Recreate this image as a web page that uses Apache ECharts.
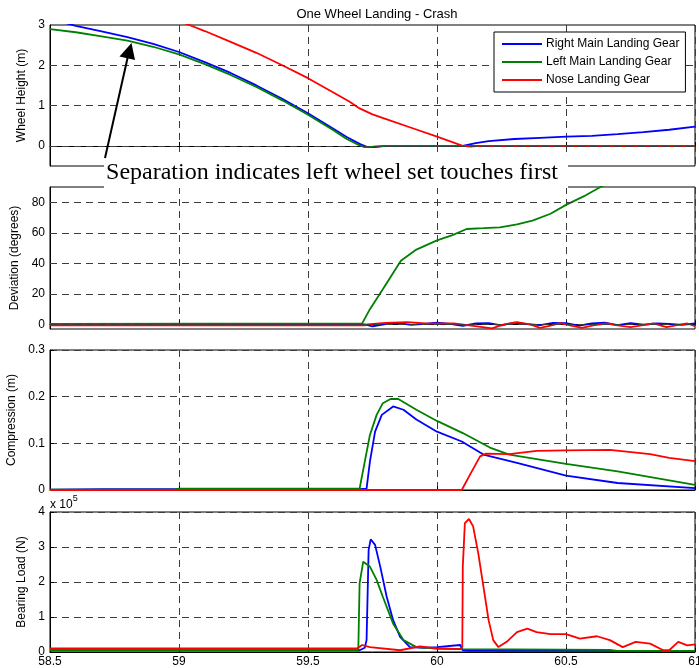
<!DOCTYPE html>
<html><head><meta charset="utf-8">
<script src="https://cdn.jsdelivr.net/npm/echarts@6/dist/echarts.min.js"></script>
<style>html,body{margin:0;padding:0;background:#fff}#c{width:699px;height:668px}</style>
</head><body><div id="c"></div>
<script>
// ---------- DATA ----------
const seriesNames = ['Right Main Landing Gear', 'Left Main Landing Gear', 'Nose Landing Gear'];
const xTicks = [58.5, 59, 59.5, 60, 60.5, 61];

// Panel 1: Wheel Height (m)
const hBlueX = [58.5,58.6,58.7,58.8,58.9,59.0,59.1,59.2,59.3,59.4,59.5,59.6,59.65,59.7,59.73,59.76,59.8,60.0,60.1,60.15,60.2,60.3,60.4,60.5,60.6,60.7,60.8,60.9,61.0];
const hBlue  = [3.15,2.98,2.84,2.70,2.53,2.33,2.08,1.81,1.50,1.17,0.81,0.42,0.22,0.05,-0.03,-0.03,0,0,0,0.07,0.12,0.17,0.20,0.23,0.25,0.29,0.34,0.40,0.48];
const hGreenX = [58.5,58.6,58.7,58.8,58.9,59.0,59.1,59.2,59.3,59.4,59.5,59.6,59.65,59.7,59.72,59.75,59.8,61.0];
const hGreen  = [2.90,2.82,2.72,2.61,2.46,2.27,2.03,1.76,1.46,1.13,0.77,0.38,0.17,0.01,-0.03,-0.02,0,0];
const hRedX = [59.0,59.04,59.1,59.2,59.3,59.4,59.5,59.6,59.66,59.7,59.75,59.8,59.9,60.0,60.1,60.13,60.16,61.0];
const hRed  = [3.10,3.00,2.85,2.58,2.31,2.00,1.68,1.32,1.10,0.93,0.78,0.67,0.45,0.23,0.0,-0.02,0,0];

// Panel 2: Deviation (degrees)
const dBlueX = [58.5,59.72,59.75,59.8,59.85,59.9,59.95,60.0,60.05,60.1,60.15,60.2,60.25,60.3,60.35,60.4,60.45,60.5,60.55,60.6,60.65,60.7,60.75,60.8,60.85,60.9,60.95,61.0];
const dBlue  = [0,0,-1.2,0.2,0.8,-0.3,0.4,1.2,0.3,-1.0,0.6,0.9,-0.6,1.1,0.2,-0.4,1.0,0.8,-0.8,0.6,1.1,-0.5,0.9,-0.2,0.6,0.4,-0.3,0.6];
const dGreenX = [58.5,59.71,59.74,59.79,59.86,59.92,60.0,60.06,60.115,60.18,60.244,60.31,60.37,60.44,60.5,60.57,60.64,60.8,61.0];
const dGreen  = [0.4,0.7,10,23,41.7,49,55,58.5,62.5,63,63.6,65.5,68,72.5,78.3,84,90.6,103,118];
const dRedX = [58.5,59.72,59.73,59.8,59.884,59.97,60.065,60.14,60.213,60.26,60.31,60.36,60.4,60.44,60.478,60.52,60.562,60.61,60.659,60.7,60.75,60.8,60.84,60.865,60.89,60.93,60.97,61.0];
const dRed  = [-0.6,-0.6,0,1.0,1.5,0.5,0.66,-1.0,-2.6,0,1.5,0,-2.2,-0.8,0.8,-0.8,-2.2,-0.5,0.6,-0.6,-1.8,-0.4,0.6,-0.6,-1.8,-0.4,0.6,-1.2];

// Panel 3: Compression (m)
const cBlueX = [58.5,58.7,59.7,59.727,59.74,59.76,59.786,59.83,59.87,59.92,60.0,60.096,60.18,60.31,60.5,60.7,61.0];
const cBlue  = [0.001,0.002,0.002,0.003,0.061,0.125,0.161,0.179,0.172,0.151,0.125,0.104,0.076,0.058,0.031,0.015,0.004];
const cGreenX = [58.5,58.98,59.0,59.70,59.74,59.766,59.79,59.82,59.85,59.92,60.0,60.1,60.205,60.28,60.5,60.7,61.0];
const cGreen  = [0.001,0.001,0.003,0.003,0.118,0.161,0.186,0.195,0.195,0.172,0.148,0.122,0.091,0.076,0.056,0.040,0.011];
const cRedX = [58.5,60.096,60.128,60.167,60.19,60.28,60.386,60.5,60.67,60.826,60.9,61.0];
const cRed  = [0.0,0.0,0.033,0.072,0.078,0.077,0.084,0.085,0.086,0.077,0.069,0.062];

// Panel 4: Bearing Load (N) x 10^5
const bBlueX = [58.5,59.70,59.72,59.727,59.735,59.743,59.76,59.78,59.805,59.83,59.857,59.895,59.95,60.0,60.09,60.1,60.12,61.0];
const bBlue  = [0.05,0.05,0.12,0.34,2.92,3.22,3.06,2.44,1.58,0.91,0.43,0.14,0.12,0.14,0.2,0.05,0.03,0.03];
const bGreenX = [58.5,59.695,59.70,59.714,59.72,59.74,59.766,59.79,59.83,59.87,59.92,60.0,60.1,60.67,60.7,61.0];
const bGreen  = [0.05,0.05,1.96,2.58,2.63,2.44,2.06,1.58,0.81,0.34,0.14,0.1,0.08,0.06,0.03,0.03];
const bRedX = [58.5,59.69,59.71,59.74,59.857,59.934,60.0,60.09,60.098,60.1,60.108,60.124,60.14,60.16,60.18,60.2,60.218,60.238,60.27,60.31,60.35,60.386,60.44,60.5,60.554,60.62,60.67,60.72,60.77,60.826,60.877,60.9,60.935,60.97,61.0];
const bRed  = [0.1,0.1,0.2,0.14,0.05,0.16,0.1,0.08,0.14,2.44,3.68,3.8,3.59,2.82,1.87,0.91,0.34,0.14,0.29,0.57,0.67,0.57,0.51,0.51,0.38,0.45,0.34,0.14,0.29,0.24,0.05,0.05,0.29,0.19,0.22];

// ---------- CHART ----------
const colors = ['#0000ff', '#008000', '#ff0000'];
const zip = (xs, ys) => xs.map((x, i) => [x, ys[i]]);
const FONT = 'Liberation Sans';
const dash = { color: '#3c3c3c', type: [7, 5], width: 1 };

const grids = [
  { left: 50, width: 645, top: 25, height: 141 },
  { left: 50, width: 645, top: 187, height: 142 },
  { left: 50, width: 645, top: 350, height: 140 },
  { left: 50, width: 645, top: 512, height: 140 }
].map(g => Object.assign(g, { show: true, borderColor: '#000', borderWidth: 1, backgroundColor: '#fff',
  containLabel: false, outerBoundsMode: 'none' }));

const xAxis = [0, 1, 2, 3].map(i => ({
  type: 'value', gridIndex: i, min: xTicks[0], max: xTicks[xTicks.length - 1], interval: 0.5,
  axisLine: { show: true, lineStyle: { color: '#000' } },
  axisTick: { show: true, inside: true, length: 4, lineStyle: { color: '#000' } },
  axisLabel: { show: i === 3, color: '#000', fontSize: 12, fontFamily: FONT, margin: 4, hideOverlap: false },
  splitLine: { show: true, lineStyle: dash }
}));

const yName = (t, gap) => ({ name: t, nameLocation: 'middle', nameGap: gap, nameTextStyle: { color: '#000', fontSize: 12, fontFamily: FONT } });
const yLab = { color: '#000', fontSize: 12, fontFamily: FONT, margin: 5 };

const yAxis = [
  Object.assign({ type: 'value', gridIndex: 0, min: -0.5, max: 3, interval: 0.5,
    axisLine: { show: true, lineStyle: { color: '#000' } }, axisTick: { show: false },
    axisLabel: Object.assign({}, yLab, { formatter: v => (Math.abs(v - Math.round(v)) < 1e-9 && v >= 0) ? String(Math.round(v)) : '' }),
    splitLine: { show: false } }, yName('Wheel Height (m)', 19)),
  Object.assign({ type: 'value', gridIndex: 1, min: -3, max: 90, interval: 1,
    axisLine: { show: true, lineStyle: { color: '#000' } }, axisTick: { show: false },
    axisLabel: Object.assign({}, yLab, { formatter: v => (v % 20 === 0 && v >= 0) ? String(v) : '' }),
    splitLine: { show: false } }, yName('Deviation (degrees)', 24)),
  Object.assign({ type: 'value', gridIndex: 2, min: 0, max: 0.3, interval: 0.1,
    axisLine: { show: true, lineStyle: { color: '#000' } },
    axisTick: { show: true, inside: true, length: 4, lineStyle: { color: '#000' } },
    axisLabel: Object.assign({}, yLab, { formatter: v => v === 0 ? '0' : v.toFixed(1) }),
    splitLine: { show: true, lineStyle: dash } }, yName('Compression (m)', 29)),
  Object.assign({ type: 'value', gridIndex: 3, min: 0, max: 4, interval: 1,
    axisLine: { show: true, lineStyle: { color: '#000' } },
    axisTick: { show: true, inside: true, length: 4, lineStyle: { color: '#000' } },
    axisLabel: yLab,
    splitLine: { show: true, lineStyle: dash } }, yName('Bearing Load (N)', 18))
];

function ln(name, idx, data, color) {
  return { name, type: 'line', xAxisIndex: idx, yAxisIndex: idx, data, showSymbol: false, symbol: 'none',
    lineStyle: { color, width: 1.8 }, itemStyle: { color }, clip: true, animation: false, z: 3 };
}
function gridLines(idx, vals) {
  return { type: 'line', xAxisIndex: idx, yAxisIndex: idx, data: [], z: 1, silent: true, animation: false,
    markLine: { silent: true, symbol: 'none', label: { show: false }, lineStyle: dash, animation: false,
      data: vals.map(v => ({ yAxis: v })) } };
}

const series = [
  gridLines(0, [0, 1, 2]),
  gridLines(1, [0, 20, 40, 60, 80]),
  ln(seriesNames[0], 0, zip(hBlueX, hBlue), colors[0]),
  ln(seriesNames[1], 0, zip(hGreenX, hGreen), colors[1]),
  ln(seriesNames[2], 0, zip(hRedX, hRed), colors[2]),
  ln(seriesNames[0], 1, zip(dBlueX, dBlue), colors[0]),
  ln(seriesNames[1], 1, zip(dGreenX, dGreen), colors[1]),
  ln(seriesNames[2], 1, zip(dRedX, dRed), colors[2]),
  ln(seriesNames[0], 2, zip(cBlueX, cBlue), colors[0]),
  ln(seriesNames[1], 2, zip(cGreenX, cGreen), colors[1]),
  ln(seriesNames[2], 2, zip(cRedX, cRed), colors[2]),
  ln(seriesNames[0], 3, zip(bBlueX, bBlue), colors[0]),
  ln(seriesNames[1], 3, zip(bGreenX, bGreen), colors[1]),
  ln(seriesNames[2], 3, zip(bRedX, bRed), colors[2])
];

const chart = echarts.init(document.getElementById('c'), null, { renderer: 'canvas' });
chart.setOption({
  animation: false,
  backgroundColor: '#fff',
  title: { text: 'One Wheel Landing - Crash', left: 372, top: 3, textAlign: 'center',
    textStyle: { fontSize: 13, fontWeight: 'normal', color: '#000', fontFamily: FONT } },
  legend: { data: seriesNames, orient: 'vertical', left: 494, top: 32, z: 50, zlevel: 0,
    padding: [5, 6, 5, 8], itemGap: 4, itemWidth: 40, itemHeight: 2, icon: 'rect',
    backgroundColor: '#fff', borderColor: '#000', borderWidth: 1, borderRadius: 0,
    textStyle: { fontSize: 12, color: '#000', fontFamily: FONT, padding: [0, 0, 0, -1], lineHeight: 14 }, selectedMode: false },
  grid: grids, xAxis, yAxis, series,
  graphic: [
    { type: 'rect', z: 100, shape: { x: 104, y: 152, width: 464, height: 36 }, style: { fill: '#fff' } },
    { type: 'text', z: 101, x: 332, y: 173, style: { text: 'Separation indicates left wheel set touches first',
      font: '24px "Liberation Serif"', fill: '#000', textAlign: 'center', textVerticalAlign: 'middle' } },
    { type: 'line', z: 102, shape: { x1: 105, y1: 158, x2: 128, y2: 56 }, style: { stroke: '#000', lineWidth: 2 } },
    { type: 'polygon', z: 102, shape: { points: [[131.5, 43], [119.5, 56.5], [135, 60]] }, style: { fill: '#000' } },
    { type: 'text', z: 101, x: 50, y: 494, style: { text: '{a|x 10}{b|5}', fill: '#000',
      rich: { a: { fontSize: 12, fontFamily: FONT, verticalAlign: 'bottom' }, b: { fontSize: 9, fontFamily: FONT, verticalAlign: 'top', padding: [0,0,8,0] } } } }
  ]
});
</script></body></html>
